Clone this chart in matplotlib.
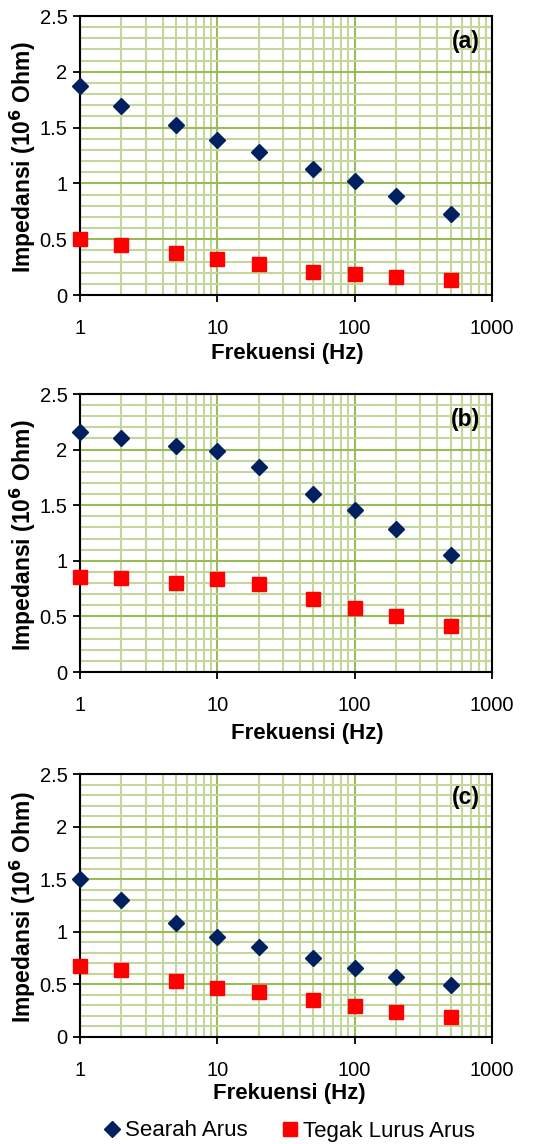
import matplotlib
matplotlib.use("Agg")
import matplotlib.pyplot as plt
from matplotlib.ticker import LogLocator, FixedLocator, MultipleLocator, NullFormatter, FixedFormatter
from matplotlib.lines import Line2D

plt.rcParams['font.family'] = ['Liberation Sans', 'DejaVu Sans']

freq = [1, 2, 5, 10, 20, 50, 100, 200, 500]

searah_a = [1.87, 1.69, 1.52, 1.39, 1.28, 1.13, 1.02, 0.89, 0.73]
tegak_a = [0.50, 0.45, 0.38, 0.32, 0.28, 0.21, 0.19, 0.16, 0.13]

searah_b = [2.16, 2.10, 2.03, 1.985, 1.84, 1.60, 1.46, 1.29, 1.05]
tegak_b = [0.855, 0.847, 0.80, 0.84, 0.787, 0.66, 0.58, 0.50, 0.41]

searah_c = [1.50, 1.30, 1.085, 0.955, 0.856, 0.755, 0.653, 0.567, 0.49]
tegak_c = [0.672, 0.634, 0.53, 0.47, 0.425, 0.355, 0.292, 0.241, 0.187]

panels = [("(a)", searah_a, tegak_a), ("(b)", searah_b, tegak_b), ("(c)", searah_c, tegak_c)]

series_names = ["Searah Arus", "Tegak Lurus Arus"]
y_ticks = [0, 0.5, 1, 1.5, 2, 2.5]
y_tick_labels = ["0", "0.5", "1", "1.5", "2", "2.5"]
x_ticks = [1, 10, 100, 1000]
x_tick_labels = ["1", "10", "100", "1000"]

W, H = 551, 1144
fig = plt.figure(figsize=(W / 100, H / 100), dpi=100)

# axes boxes in pixels: (left, top, right, bottom)
boxes = [(80, 16, 492, 295), (80, 394, 492, 672), (80, 774, 492, 1037)]
xlabel_centers = [287, 307, 289]
xlabel_y = [353, 733, 1093]

navy = "#002060"
red = "#FF0000"
major_green = "#9BBB59"
minor_green = "#C3D69B"

for (lab, s, t), (l, tp, r, b), xc, xy in zip(panels, boxes, xlabel_centers, xlabel_y):
    ax = fig.add_axes([l / W, 1 - b / H, (r - l) / W, (b - tp) / H])
    ax.set_xscale('log')
    ax.set_xlim(1, 1000)
    ax.set_ylim(0, 2.5)
    ax.xaxis.set_major_locator(FixedLocator(x_ticks))
    ax.xaxis.set_major_formatter(FixedFormatter(x_tick_labels))
    ax.xaxis.set_minor_locator(LogLocator(base=10, subs=range(2, 10)))
    ax.xaxis.set_minor_formatter(NullFormatter())
    ax.yaxis.set_major_locator(FixedLocator(y_ticks))
    ax.yaxis.set_major_formatter(FixedFormatter(y_tick_labels))
    ax.yaxis.set_minor_locator(MultipleLocator(0.1))
    ax.grid(which='minor', color=minor_green, linewidth=1.5)
    ax.grid(which='major', color=major_green, linewidth=1.5)
    ax.set_axisbelow(True)
    ax.tick_params(which='minor', length=0)
    ax.tick_params(which='major', direction='out', length=5, width=1.3, labelsize=14.5, pad=4)
    ax.tick_params(axis='x', pad=12)
    for sp in ax.spines.values():
        sp.set_color('black')
        sp.set_linewidth(1.5)
    ax.plot(freq, s, linestyle='none', marker='D', markersize=8, color=navy, clip_on=False, zorder=3)
    ax.plot(freq, t, linestyle='none', marker='s', markersize=9.5, color=red, clip_on=False, zorder=3)
    ax.text(0.971, 0.91, lab, transform=ax.transAxes, ha='right', va='center', fontsize=16.5, fontweight='bold')
    fig.text(xc / W, 1 - xy / H, "Frekuensi (Hz)", ha='center', va='center', fontsize=16, fontweight='bold')
    fig.text(23 / W, 1 - ((tp + b) / 2 + 2) / H, "Impedansi (10$^{\\mathbf{6}}$ Ohm)", rotation=90,
             ha='center', va='center', fontsize=16.5, fontweight='bold')

handles = [Line2D([], [], linestyle='none', marker='D', markersize=8, color=navy),
           Line2D([], [], linestyle='none', marker='s', markersize=9.5, color=red)]
fig.legend(handles, series_names, loc='center', bbox_to_anchor=(289 / W, 1 - 1131 / H), ncol=2,
           frameon=False, fontsize=16, handlelength=0.8, handletextpad=0.2, columnspacing=1.5,
           borderpad=0, borderaxespad=0)

fig.savefig("out.png", dpi=100)
